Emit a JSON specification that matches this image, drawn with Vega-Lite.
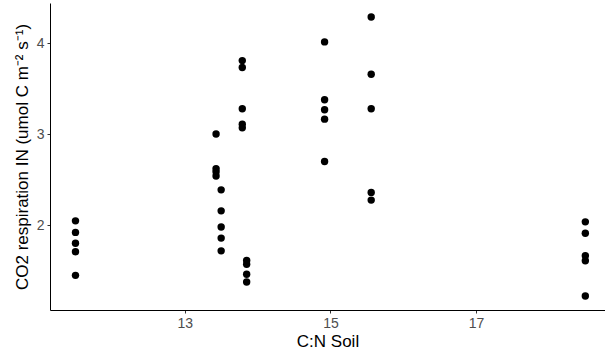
{
  "$schema": "https://vega.github.io/schema/vega-lite/v6.json",
  "width": 555,
  "height": 307,
  "autosize": {"type": "none"},
  "padding": {"left": 50, "top": 3, "right": 0, "bottom": 50},
  "background": "white",
  "config": {"view": {"stroke": null}, "font": "Liberation Sans"},
  "data": {"values": [
    {"cn": 11.50, "resp": 2.047}, {"cn": 11.50, "resp": 1.92}, {"cn": 11.50, "resp": 1.80}, {"cn": 11.50, "resp": 1.707}, {"cn": 11.50, "resp": 1.447},
    {"cn": 13.43, "resp": 3.003}, {"cn": 13.43, "resp": 2.62}, {"cn": 13.43, "resp": 2.586}, {"cn": 13.43, "resp": 2.54},
    {"cn": 13.50, "resp": 2.388}, {"cn": 13.50, "resp": 2.157}, {"cn": 13.50, "resp": 1.98}, {"cn": 13.50, "resp": 1.857}, {"cn": 13.50, "resp": 1.717},
    {"cn": 13.79, "resp": 3.81}, {"cn": 13.79, "resp": 3.735}, {"cn": 13.79, "resp": 3.28}, {"cn": 13.79, "resp": 3.11}, {"cn": 13.79, "resp": 3.07},
    {"cn": 13.85, "resp": 1.61}, {"cn": 13.85, "resp": 1.57}, {"cn": 13.85, "resp": 1.46}, {"cn": 13.85, "resp": 1.374},
    {"cn": 14.92, "resp": 4.016}, {"cn": 14.92, "resp": 3.38}, {"cn": 14.92, "resp": 3.27}, {"cn": 14.92, "resp": 3.166}, {"cn": 14.92, "resp": 2.70},
    {"cn": 15.56, "resp": 4.29}, {"cn": 15.56, "resp": 3.66}, {"cn": 15.56, "resp": 3.28}, {"cn": 15.56, "resp": 2.36}, {"cn": 15.56, "resp": 2.275},
    {"cn": 18.50, "resp": 2.036}, {"cn": 18.50, "resp": 1.91}, {"cn": 18.50, "resp": 1.663}, {"cn": 18.50, "resp": 1.608}, {"cn": 18.50, "resp": 1.22}
  ]},
  "mark": {"type": "point", "filled": true, "color": "black", "opacity": 1, "size": 55},
  "encoding": {
    "x": {
      "field": "cn", "type": "quantitative",
      "scale": {"domain": [11.15, 18.77], "nice": false, "zero": false},
      "axis": {
        "title": "C:N Soil", "values": [13, 15, 17], "grid": false,
        "domainColor": "#000000", "domainWidth": 1,
        "tickColor": "#333333", "tickSize": 3, "tickWidth": 1,
        "labelColor": "#4D4D4D", "labelFontSize": 14, "labelPadding": 3, "labelFont": "Liberation Sans",
        "titleFontSize": 17, "titleFontWeight": "normal", "titleColor": "#000000", "titlePadding": 3, "titleFont": "Liberation Sans"
      }
    },
    "y": {
      "field": "resp", "type": "quantitative",
      "scale": {"domain": [1.066, 4.444], "nice": false, "zero": false},
      "axis": {
        "title": "CO2 respiration IN (umol C m⁻² s⁻¹)", "values": [2, 3, 4], "grid": false,
        "domainColor": "#000000", "domainWidth": 1,
        "tickColor": "#333333", "tickSize": 3, "tickWidth": 1,
        "labelColor": "#4D4D4D", "labelFontSize": 14, "labelPadding": 3, "labelFont": "Liberation Sans",
        "titleFontSize": 17, "titleFontWeight": "normal", "titleColor": "#000000", "titlePadding": 5, "titleFont": "Liberation Sans"
      }
    }
  }
}
